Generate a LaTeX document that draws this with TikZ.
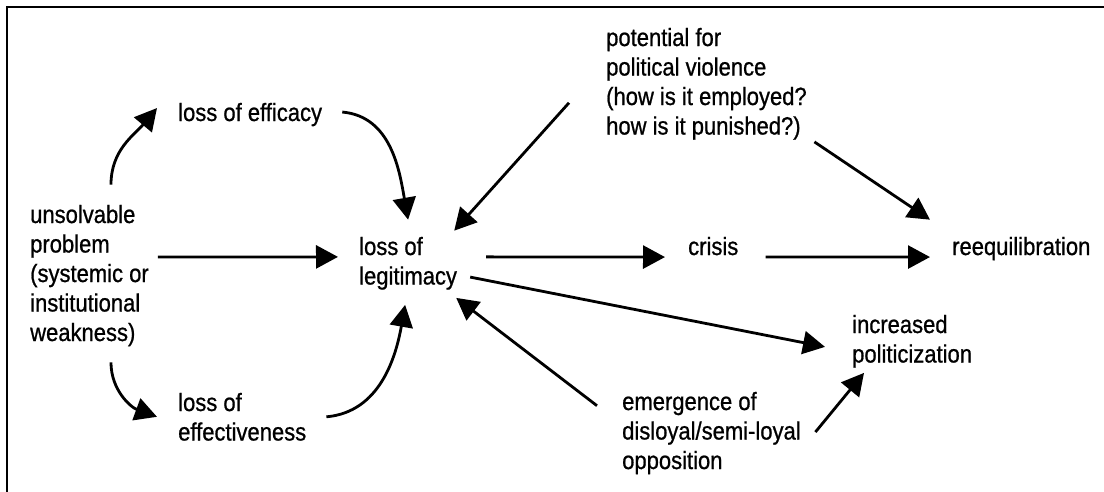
\documentclass[tikz,border=0pt]{standalone}
\usepackage{fontspec}
\setmainfont{Liberation Sans}[FakeStretch=0.88, FakeBold=0.8]
\usetikzlibrary{arrows.meta}
\begin{document}
\begin{tikzpicture}[x=1pt, y=1pt,
    lbl/.style={anchor=base west, align=left, inner sep=0pt, font=\fontsize{25}{29.5}\selectfont},
    arr/.style={-{Triangle[length=22pt, width=23pt]}, line width=2.8pt}]
  \useasboundingbox (0,0) rectangle (1104,-491);
  \draw[line width=2pt] (7,-495) -- (7,-7) -- (1108,-7);
  % nodes sit on the baseline of their last line
  \node[lbl] (prob) at (30,-341){unsolvable\\problem\\(systemic or\\institutional\\weakness)};
  \node[lbl] (eff) at (178,-121){loss of efficacy};
  \node[lbl] (effv) at (178,-440.5){loss of\\effectiveness};
  \node[lbl] (legit) at (359,-284.5){loss of\\legitimacy};
  \node[lbl] (viol) at (606,-134.5){potential for\\political violence\\(how is it employed?\\how is it punished?)};
  \node[lbl] (crisis) at (688,-255){crisis};
  \node[lbl] (reeq) at (952,-255){reequilibration};
  \node[lbl] (polit) at (852,-362.5){increased\\politicization};
  \node[lbl] (opp) at (622,-469){emergence of\\disloyal/semi-loyal\\opposition};
  \draw[arr] ([shift={(9,18.5)}]prob.east) -- ([shift={(-21,6.4)}]legit.west);
  \draw[arr] ([shift={(21.5,20)}]prob.north) to[out=90, in=230] ([shift={(-21,6.5)}]eff.west);
  \draw[arr] ([shift={(21.5,-16)}]prob.south) to[out=-90, in=160] ([shift={(-21,0)}]effv.west);
  \draw[arr] ([shift={(20,2.5)}]eff.east) to[out=-5, in=100] ([shift={(0,17)}]legit.north);
  \draw[arr] ([shift={(20,0)}]effv.east) to[out=5, in=-100] ([shift={(-3,-15)}]legit.south);
  \draw[arr] ([shift={(-37,-19)}]viol.west) -- ([shift={(-3,6)}]legit.north east);
  \draw[arr] ([shift={(7.5,-2)}]viol.south east) -- ([shift={(-22,17)}]reeq.north west);
  \draw[arr] ([shift={(29,6.4)}]legit.east) -- ([shift={(-23,-11)}]crisis.west);
  \draw[arr] ([shift={(27,-11)}]crisis.east) -- ([shift={(-22,-8.5)}]reeq.west);
  \draw[arr] ([shift={(13,12.8)}]legit.south east) -- ([shift={(-27,-5.6)}]polit.west);
  \draw[arr] ([shift={(-25,-14)}]opp.north west) -- ([shift={(-1,-8)}]legit.south east);
  \draw[arr] ([shift={(14.5,1)}]opp.east) -- ([shift={(12,-5)}]polit.south west);
\end{tikzpicture}
\end{document}
